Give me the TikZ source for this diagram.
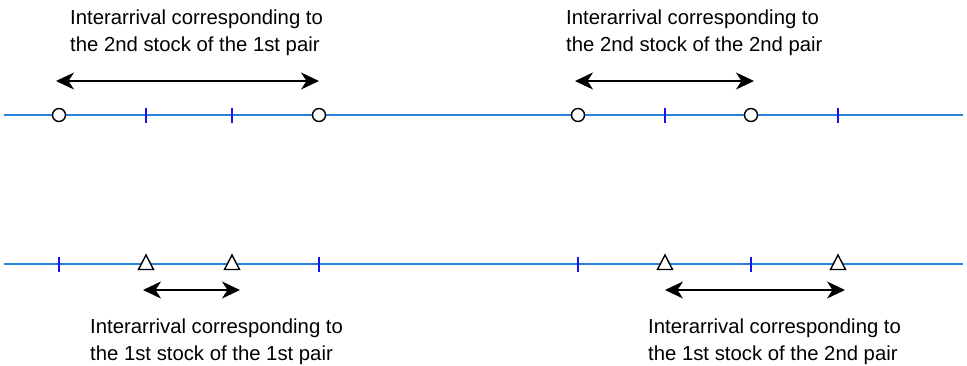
\documentclass[tikz,border=0pt]{standalone}
\usepackage{fontspec}
\setmainfont{Liberation Sans}
\usetikzlibrary{arrows.meta}
\definecolor{axisblue}{RGB}{40,130,220}
\definecolor{tickblue}{RGB}{20,20,240}
\tikzset{
  axisline/.style={draw=axisblue, line width=1.8pt},
  tickmark/.style={draw=tickblue, line width=1.5pt},
  circmark/.style={circle, draw=black, line width=1.4pt, fill=white, minimum size=13pt, inner sep=0pt},
  trimark/.style={draw=black, line width=1.4pt, fill=white},
  spanarrow/.style={black, line width=1.6pt, {Stealth[length=18pt,width=17pt,inset=5.5pt]}-{Stealth[length=18pt,width=17pt,inset=5.5pt]}},
  lbl/.style={align=left, anchor=north west, inner sep=0pt, font=\fontsize{20.3}{27}\selectfont}
}
\begin{document}
\begin{tikzpicture}[x=1pt,y=-1pt]
\useasboundingbox (0,0) rectangle (967,365);
% axes
\coordinate (tl) at (4,115); \coordinate (tr) at (963,115);
\coordinate (bl) at (4,264); \coordinate (br) at (963,264);
\draw[axisline] (tl) -- (tr);
\draw[axisline] (bl) -- (br);
% top ticks
\foreach \x in {146,232,665,838}{
  \draw[tickmark] (\x,107.5) -- (\x,122.5);
}
% top circles
\node[circmark] (c1) at (59,115) {};
\node[circmark] (c2) at (319,115) {};
\node[circmark] (c3) at (578,115) {};
\node[circmark] (c4) at (751,115) {};
% bottom ticks
\foreach \x in {59,319,578,751}{
  \draw[tickmark] (\x,256.5) -- (\x,271.5);
}
% bottom triangles
\foreach \x [count=\i] in {146,232,665,838}{
  \draw[trimark] (\x-7.5,269.5) -- (\x,255) -- (\x+7.5,269.5) -- cycle;
  \coordinate (t\i) at (\x,264);
}
% arrows
\coordinate (a1l) at (56,81); \coordinate (a1r) at (319,81);
\coordinate (a2l) at (575,81); \coordinate (a2r) at (754,81);
\coordinate (a3l) at (143,290); \coordinate (a3r) at (240,290);
\coordinate (a4l) at (665,290); \coordinate (a4r) at (845,290);
\draw[spanarrow] (a1l) -- (a1r);
\draw[spanarrow] (a2l) -- (a2r);
\draw[spanarrow] (a3l) -- (a3r);
\draw[spanarrow] (a4l) -- (a4r);
% labels
\node[lbl] (L1) at (70,9.5) {Interarrival corresponding to\\the 2nd stock of the 1st pair};
\node[lbl] (L2) at (566,9.5) {Interarrival corresponding to\\the 2nd stock of the 2nd pair};
\node[lbl] (L3) at (90,318.5) {Interarrival corresponding to\\the 1st stock of the 1st pair};
\node[lbl] (L4) at (648,318.5) {Interarrival corresponding to\\the 1st stock of the 2nd pair};
\end{tikzpicture}
\end{document}
